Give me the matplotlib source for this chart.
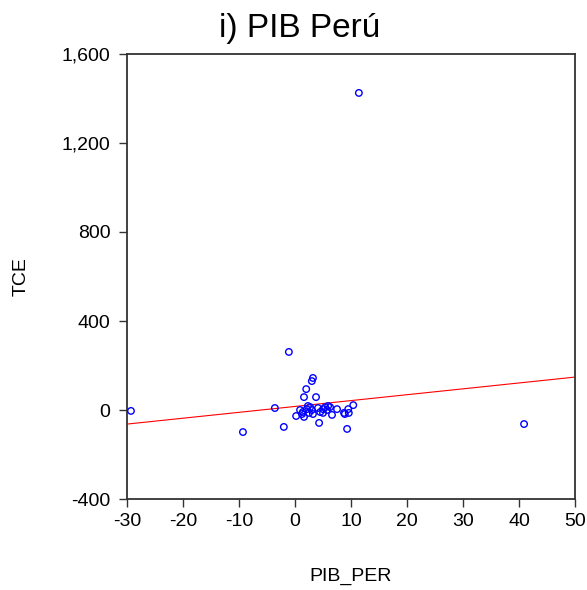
import matplotlib
matplotlib.use("Agg")
import matplotlib.pyplot as plt
import numpy as np

plt.rcParams['font.family'] = ['Liberation Sans', 'DejaVu Sans']
plt.rcParams['axes.unicode_minus'] = False

# PIB_PER (x) y TCE (y)
pib_per = [-29.3, -9.3, -3.6, -2.0, -1.1, 11.4, 40.9, 9.3, 4.3,
           3.2, 3.0, 2.0, 1.6, 3.75,
           0.2, 1.6, 1.4, 2.7, 3.2, 5.0, 5.9, 6.6, 7.5, 8.75,
           9.5, 10.4, 9.6, 8.9, 0.9, 2.1, 2.5, 4.5, 5.7, 6.25,
           5.4, 4.1, 1.25, 3.0, 2.3, 5.0]
tce = [-4, -99, 9, -76, 261, 1425, -63, -85, -58,
       144, 130, 94, 58, 58,
       -27, -31, -9, 13, -18, 4, 18, -22, 4, -13,
       4, 22, -13, -18, 0, 4, -13, -9, 0, 13,
       13, 9, -18, 0, 18, -13]

# recta de regresion
intercepto = 16.0
pendiente = 2.64

x_ticks = [-30, -20, -10, 0, 10, 20, 30, 40, 50]
y_ticks = [-400, 0, 400, 800, 1200, 1600]


def main():
    fig = plt.figure(figsize=(5.87, 5.90), dpi=100)
    ax = fig.add_axes([0.2164, 0.1542, 0.7632, 0.7543])

    ax.scatter(pib_per, tce, s=22, facecolors='none', edgecolors='#0000ff',
               linewidths=1.0, zorder=3)

    xl = np.array([-30, 50])
    ax.plot(xl, intercepto + pendiente * xl, color='#ff0000', lw=0.8, zorder=2)

    ax.set_xlim(-30, 50)
    ax.set_ylim(-400, 1600)
    ax.set_xticks(x_ticks)
    ax.set_yticks(y_ticks)
    ax.set_yticklabels(["{:,}".format(v) for v in y_ticks])

    for s in ax.spines.values():
        s.set_color('#333333')
        s.set_linewidth(1.3)
    ax.tick_params(direction='out', length=6, width=1, color='#333333',
                   labelsize=14, top=False, right=False)
    ax.tick_params(axis='x', pad=4)
    ax.tick_params(axis='y', pad=6)

    ax.set_title('i) PIB Perú', fontsize=24, x=0.386, pad=12)
    ax.set_xlabel('PIB_PER', fontsize=14)
    ax.set_ylabel('TCE', fontsize=14)
    ax.xaxis.set_label_coords(0.5, -0.155)
    ax.yaxis.set_label_coords(-0.217, 0.5)

    fig.savefig('out.png', dpi=100)


if __name__ == "__main__":
    main()
